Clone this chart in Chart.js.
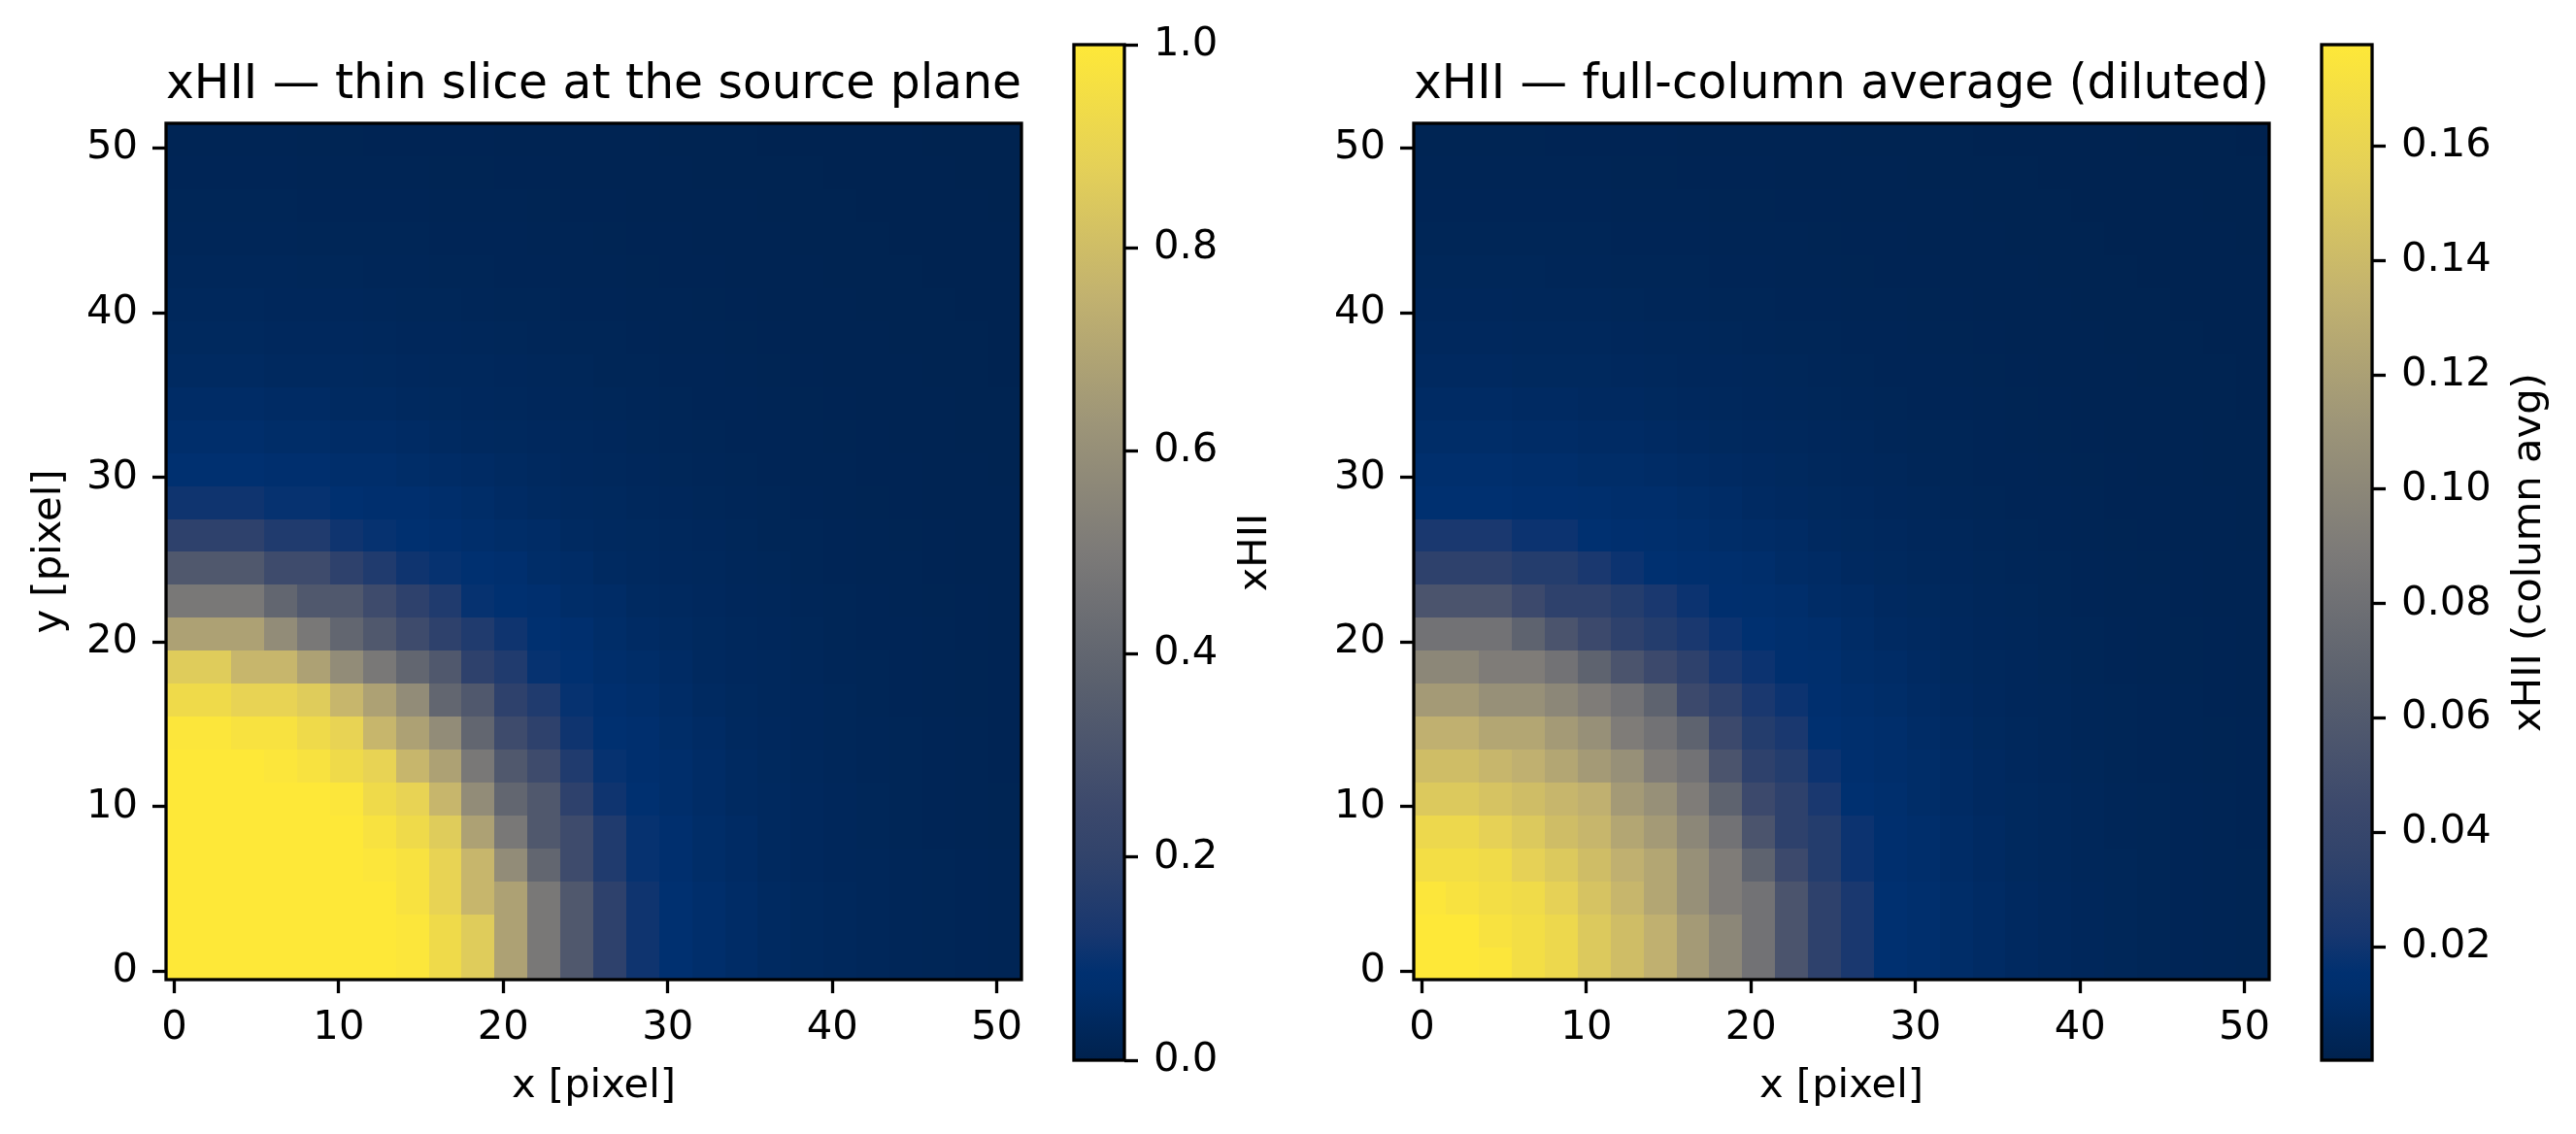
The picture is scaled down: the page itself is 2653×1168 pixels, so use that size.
<!DOCTYPE html>
<html lang="en">
<head>
<meta charset="UTF-8">
<title>xHII slice vs column average</title>
<script src="https://cdn.jsdelivr.net/npm/chart.js@4"></script>
<style>
  body { margin: 0; background: #ffffff; }
  #wrap { position: relative; width: 2653px; height: 1168px; overflow: hidden; }
  canvas { position: absolute; top: 0; }
</style>
</head>
<body>
<div id="wrap">
  <canvas id="sliceMap" width="1080" height="1168" style="left:0px"></canvas>
  <canvas id="sliceBar" width="260" height="1168" style="left:1080px"></canvas>
  <canvas id="columnMap" width="1080" height="1168" style="left:1285px"></canvas>
  <canvas id="columnBar" width="283" height="1168" style="left:2370px"></canvas>
</div>
<script>
// grid: 52 x 52 pixels, source in the corner pixel (0,0)
const gridSize = 52;
const xTicks = [0, 10, 20, 30, 40, 50];
const yTicks = [0, 10, 20, 30, 40, 50];

const sliceProfile = [
  1.0, 1.0, 1.0, 1.0, 1.0, 1.0, 1.0, 1.0, 1.0, 1.0,
  1.0, 1.0, 1.0, 1.0, 0.99, 0.97, 0.93, 0.895, 0.86, 0.77,
  0.68, 0.585, 0.49, 0.40, 0.33, 0.26, 0.19, 0.15, 0.11, 0.095,
  0.085, 0.075, 0.066, 0.06, 0.055, 0.05, 0.045, 0.041, 0.038, 0.035,
  0.032, 0.03, 0.028, 0.026, 0.024, 0.022, 0.02, 0.019, 0.018, 0.017,
  0.016, 0.015, 0.014, 0.013, 0.012, 0.012, 0.011, 0.011, 0.010, 0.010,
  0.009, 0.009, 0.008, 0.008, 0.007, 0.007, 0.006, 0.006, 0.005, 0.005,
  0.004, 0.004
];

// column-averaged xHII, same radius index
const columnProfile = [
  0.1777, 0.1777, 0.1777, 0.1777, 0.1759, 0.1724, 0.1688, 0.1662, 0.1635, 0.1573,
  0.1511, 0.1466, 0.1422, 0.1369, 0.1324, 0.1245, 0.1156, 0.1076, 0.0996, 0.0907,
  0.0819, 0.0685, 0.0552, 0.0446, 0.0339, 0.0286, 0.0233, 0.0188, 0.0153, 0.0140,
  0.0130, 0.0119, 0.0109, 0.0100, 0.0091, 0.0084, 0.0077, 0.0069, 0.0064, 0.0059,
  0.0055, 0.0052, 0.0048, 0.0045, 0.0041, 0.0038, 0.0036, 0.0034, 0.0032, 0.0030,
  0.0029, 0.0027, 0.0025, 0.0023, 0.0023, 0.0022, 0.0022, 0.0020, 0.0020, 0.0018,
  0.0018, 0.0016, 0.0016, 0.0014, 0.0014, 0.0013, 0.0013, 0.0011, 0.0011, 0.0009,
  0.0009, 0.0007
];

const sliceRange = [0, 1];
const columnRange = [0.0002, 0.1777];
const sliceBarTicks = [0, 0.2, 0.4, 0.6, 0.8, 1.0];
const columnBarTicks = [0.02, 0.04, 0.06, 0.08, 0.10, 0.12, 0.14, 0.16];

const FONT = "'DejaVu Sans', 'Liberation Sans', sans-serif";

// cividis colour map
const cividisStops = [
  [0.000, '#00224e'], [0.040, '#00295f'], [0.070, '#002f6d'], [0.086, '#003070'],
  [0.125, '#18376f'], [0.200, '#31436b'], [0.250, '#3c496c'], [0.375, '#5b616e'],
  [0.500, '#7c7a78'], [0.627, '#9d9578'], [0.753, '#c2b26f'], [0.878, '#e4d058'],
  [1.000, '#fee838']
];
const hexRgb = h => [1, 3, 5].map(i => parseInt(h.slice(i, i + 2), 16));

function cividis(t) {
  t = Math.max(0, Math.min(1, t));
  for (let i = 1; i < cividisStops.length; i++) {
    const [t1, c1] = cividisStops[i];
    if (t <= t1) {
      const [t0, c0] = cividisStops[i - 1];
      const f = (t - t0) / (t1 - t0);
      const a = hexRgb(c0), b = hexRgb(c1);
      return 'rgb(' + a.map((v, k) => Math.round(v + (b[k] - v) * f)).join(',') + ')';
    }
  }
  return cividisStops[cividisStops.length - 1][1];
}

// the map is built in 2x2 pixel blocks; each block takes the profile value at its radius
function buildCells(profile) {
  const cells = [];
  for (let j = 0; j < gridSize; j++) {
    for (let i = 0; i < gridSize; i++) {
      const bx = 2 * Math.floor(i / 2) + 0.5;
      const by = 2 * Math.floor(j / 2) + 0.5;
      const k = Math.min(profile.length - 1, Math.floor(Math.hypot(bx, by)));
      cells.push({ x: i, y: j, v: profile[k] });
    }
  }
  return cells;
}

function cellLayer(range) {
  return {
    id: 'cells',
    beforeDatasetsDraw(chart) {
      const { ctx, chartArea: a, scales: { x, y } } = chart;
      ctx.save();
      ctx.beginPath();
      ctx.rect(a.left, a.top, a.right - a.left, a.bottom - a.top);
      ctx.clip();
      for (const c of chart.data.datasets[0].data) {
        const x0 = Math.floor(x.getPixelForValue(c.x - 0.5));
        const x1 = Math.ceil(x.getPixelForValue(c.x + 0.5));
        const y0 = Math.floor(y.getPixelForValue(c.y + 0.5));
        const y1 = Math.ceil(y.getPixelForValue(c.y - 0.5));
        ctx.fillStyle = cividis((c.v - range[0]) / (range[1] - range[0]));
        ctx.fillRect(x0, y0, x1 - x0, y1 - y0);
      }
      ctx.restore();
    },
    afterDatasetsDraw(chart) {
      const { ctx, chartArea: a } = chart;
      ctx.save();
      ctx.strokeStyle = '#000';
      ctx.lineWidth = 3.3;
      ctx.strokeRect(a.left, a.top, a.right - a.left, a.bottom - a.top);
      ctx.restore();
    }
  };
}

function pixelAxis(tickValues, pos, title) {
  return {
    type: 'linear',
    position: pos,
    min: -0.5,
    max: gridSize - 0.5,
    afterBuildTicks: s => { s.ticks = tickValues.map(v => ({ value: v })); },
    afterFit: s => { if (pos === 'bottom') s.height = 159; else s.width = 171; },
    grid: { display: true, drawOnChartArea: false, drawTicks: true, tickLength: 14, tickWidth: 3.3, tickColor: '#000' },
    border: { display: false },
    ticks: {
      color: '#000', autoSkip: false, maxRotation: 0,
      padding: pos === 'bottom' ? 11 : 15,
      font: { family: FONT, size: 41.7 },
      callback: v => String(v)
    },
    title: title ? {
      display: true, text: title, color: '#000',
      font: { family: FONT, size: 41.7, lineHeight: 1.2 },
      padding: pos === 'bottom' ? { top: 0, bottom: 24 } : { top: 26, bottom: 0 }
    } : { display: false }
  };
}

function heatmap(id, profile, range, title, yTitle) {
  return new Chart(document.getElementById(id), {
    type: 'scatter',
    data: { datasets: [{ data: buildCells(profile), pointRadius: 0, pointHoverRadius: 0 }] },
    options: {
      responsive: false, animation: false, devicePixelRatio: 1, events: [],
      layout: { padding: { left: 0, right: 28, top: 0, bottom: 0 } },
      plugins: {
        legend: { display: false },
        tooltip: { enabled: false },
        title: {
          display: true, text: title, fullSize: false, color: '#000',
          font: { family: FONT, size: 50, weight: 'normal', lineHeight: 1 },
          padding: { top: 63, bottom: 14 }
        }
      },
      scales: {
        x: pixelAxis(xTicks, 'bottom', 'x [pixel]'),
        y: pixelAxis(yTicks, 'left', yTitle)
      }
    },
    plugins: [cellLayer(range)]
  });
}

function barLayer(range, label, labelOffset) {
  return {
    id: 'bar',
    beforeDatasetsDraw(chart) {
      const { ctx, chartArea: a, scales: { y } } = chart;
      const yLo = y.getPixelForValue(range[0]), yHi = y.getPixelForValue(range[1]);
      const g = ctx.createLinearGradient(0, yLo, 0, yHi);
      cividisStops.forEach(([t, c]) => g.addColorStop(t, c));
      ctx.save();
      ctx.fillStyle = g;
      ctx.fillRect(a.left, a.top, a.right - a.left, a.bottom - a.top);
      ctx.strokeStyle = '#000';
      ctx.lineWidth = 3.3;
      ctx.strokeRect(a.left, a.top, a.right - a.left, a.bottom - a.top);
      ctx.translate(a.right + labelOffset, (a.top + a.bottom) / 2);
      ctx.rotate(-Math.PI / 2);
      ctx.fillStyle = '#000';
      ctx.font = '41.7px ' + FONT;
      ctx.textAlign = 'center';
      ctx.textBaseline = 'middle';
      ctx.fillText(label, 0, 0);
      ctx.restore();
    }
  };
}

function colorbar(id, range, tickValues, decimals, label, leftPad, axisWidth, labelOffset) {
  return new Chart(document.getElementById(id), {
    type: 'scatter',
    data: { datasets: [{ data: [], pointRadius: 0 }] },
    options: {
      responsive: false, animation: false, devicePixelRatio: 1, events: [],
      layout: { padding: { left: leftPad, right: 0, top: 46, bottom: 76 } },
      plugins: { legend: { display: false }, tooltip: { enabled: false }, title: { display: false } },
      scales: {
        x: { display: false, min: 0, max: 1 },
        y: {
          position: 'right', min: range[0], max: range[1],
          afterBuildTicks: s => { s.ticks = tickValues.map(v => ({ value: v })); },
          afterFit: s => { s.width = axisWidth; },
          grid: { display: true, drawOnChartArea: false, drawTicks: true, tickLength: 14, tickWidth: 3.3, tickColor: '#000' },
          border: { display: false },
          ticks: {
            color: '#000', autoSkip: false, padding: 16,
            font: { family: FONT, size: 41.7 },
            callback: v => v.toFixed(decimals)
          }
        }
      }
    },
    plugins: [barLayer(range, label, labelOffset)]
  });
}

heatmap('sliceMap', sliceProfile, sliceRange, 'xHII \u2014 thin slice at the source plane', 'y [pixel]');
colorbar('sliceBar', sliceRange, sliceBarTicks, 1, 'xHII', 26, 182, 135);
heatmap('columnMap', columnProfile, columnRange, 'xHII \u2014 full-column average (diluted)', null);
colorbar('columnBar', columnRange, columnBarTicks, 2, 'xHII (column avg)', 21, 210, 162);
</script>
</body>
</html>
